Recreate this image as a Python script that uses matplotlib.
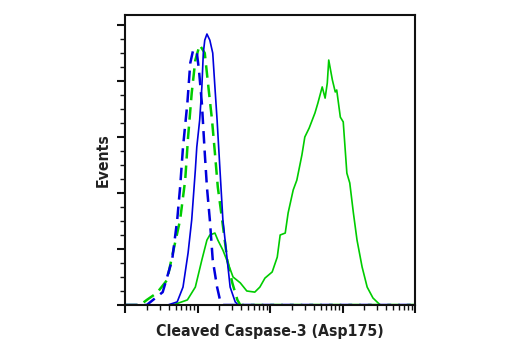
import numpy as np
import matplotlib
matplotlib.use('Agg')
import matplotlib.pyplot as plt
from matplotlib import font_manager
from matplotlib.ticker import LogLocator, MultipleLocator, NullFormatter

# log10 intensity / event count pairs
blue_solid_logx = [1.0, 1.59, 1.72, 1.80, 1.87, 1.92, 1.97, 1.99, 2.03, 2.06, 2.08, 2.10, 2.13,
                   2.17, 2.21, 2.24, 2.27, 2.31, 2.35, 2.41, 2.45, 2.52, 2.56, 5.0]
blue_solid_y = [0, 0, 1.1, 6.4, 18.6, 30.4, 48.2, 56.4, 66.1, 77.9, 90, 94.6, 96.8,
                94.6, 90, 77.9, 66.1, 48.2, 30.4, 16.1, 6.4, 1.1, 0, 0]

blue_dash_logx = [1.0, 1.30, 1.52, 1.65, 1.72, 1.76, 1.80, 1.86, 1.90, 1.94, 1.99, 2.02, 2.06,
                  2.10, 2.13, 2.17, 2.21, 2.27, 2.31, 2.35, 5.0]
blue_dash_y = [0, 0, 4.6, 16.1, 30.4, 42.1, 56.4, 72.1, 86.4, 91.1, 90.4, 83.9, 72.1,
               54.3, 42.1, 30.4, 16.1, 6.4, 1.8, 0, 0]

green_dash_logx = [1.0, 1.21, 1.30, 1.44, 1.58, 1.66, 1.76, 1.83, 1.87, 1.92, 1.97, 2.03, 2.10,
                   2.15, 2.20, 2.24, 2.28, 2.34, 2.41, 2.48, 2.55, 2.59, 5.0]
green_dash_y = [0, 0, 1.8, 4.3, 8.9, 18.6, 30.4, 44.6, 60, 75.7, 87.5, 92.9, 90,
                77.9, 66.1, 54.3, 42.1, 30.4, 16.1, 7.9, 1.8, 0, 0]

green_solid_logx = [1.0, 1.66, 1.86, 1.97, 2.06, 2.13, 2.17, 2.24, 2.28, 2.35, 2.42, 2.49, 2.59,
                    2.68, 2.79, 2.86, 2.93, 3.03, 3.10, 3.14, 3.21, 3.25, 3.32, 3.37, 3.44,
                    3.48, 3.54, 3.62, 3.66, 3.72, 3.76, 3.79, 3.81, 3.86, 3.90, 3.92, 3.97,
                    4.01, 4.06, 4.10, 4.15, 4.20, 4.27, 4.34, 4.42, 4.52, 5.0]
green_solid_y = [0, 0, 1.8, 6.4, 16.1, 23.2, 25, 25.7, 23.2, 19.6, 15, 10, 7.9,
                 5, 4.6, 6.4, 9.6, 11.8, 17.1, 25, 25.7, 32.9, 41.1, 44.6, 53.6,
                 60, 63.2, 68.6, 72.1, 77.9, 73.9, 79.3, 87.5, 80.4, 76.1, 76.8, 67.1,
                 65.4, 47.1, 43.6, 32.9, 23.2, 13.6, 6.4, 2.5, 0, 0]

blue = '#0000dd'
green = '#00cc00'

# condensed bold font if there is one
names = {f.name for f in font_manager.fontManager.ttflist}
lab_font = ['Liberation Sans Narrow', 'DejaVu Sans'] if 'Liberation Sans Narrow' in names \
    else ['DejaVu Sans']

fig = plt.figure(figsize=(5.2, 3.5), dpi=100)
ax = fig.add_axes([0.2404, 0.1286, 0.5577, 0.8286])

ax.plot(10 ** np.array(green_solid_logx), green_solid_y, color=green, lw=1.2)
ax.plot(10 ** np.array(green_dash_logx), green_dash_y, color=green, lw=1.8, dashes=(5, 2.8))
ax.plot(10 ** np.array(blue_dash_logx), blue_dash_y, color=blue, lw=1.8, dashes=(5, 2.8))
ax.plot(10 ** np.array(blue_solid_logx), blue_solid_y, color=blue, lw=1.2)

ax.set_xscale('log')
ax.set_xlim(1e1, 1e5)
ax.set_ylim(0, 103.6)

ax.xaxis.set_major_locator(LogLocator(base=10, numticks=10))
ax.xaxis.set_minor_locator(LogLocator(base=10, subs=np.arange(2, 10), numticks=10))
ax.xaxis.set_major_formatter(NullFormatter())
ax.xaxis.set_minor_formatter(NullFormatter())
ax.yaxis.set_major_locator(MultipleLocator(20))
ax.yaxis.set_minor_locator(MultipleLocator(5))
ax.yaxis.set_major_formatter(NullFormatter())

ax.tick_params(which='major', length=6, width=1.5, direction='out', color='#111111')
ax.tick_params(which='minor', length=3.5, width=1, direction='out', color='#111111')
for s in ax.spines.values():
    s.set_linewidth(1.5)
    s.set_color('#111111')

ax.set_xlabel('Cleaved Caspase-3 (Asp175)', fontsize=11.3, fontweight='bold',
              family=lab_font, fontstretch='condensed', color='#222222', labelpad=4)
ax.set_ylabel('Events', fontsize=11.3, fontweight='bold', family=lab_font,
              fontstretch='condensed', color='#222222', labelpad=1)

fig.savefig('out.png', dpi=100)
